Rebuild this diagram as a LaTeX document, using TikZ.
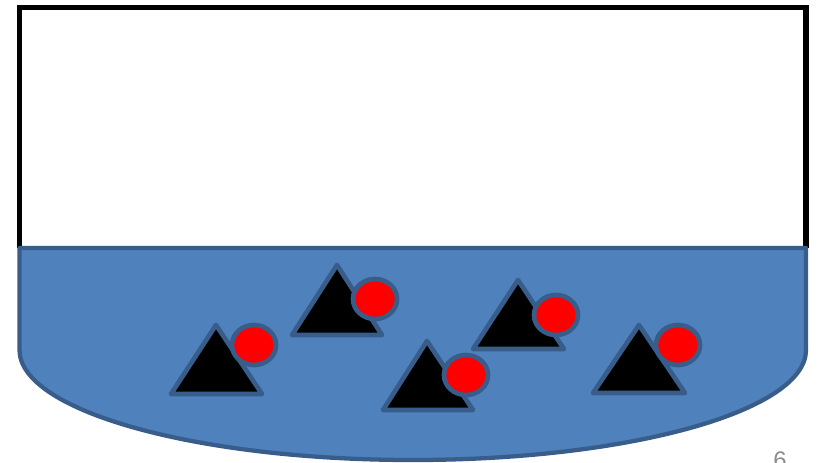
\documentclass[tikz,border=0pt]{standalone}
\usepackage{fontspec}
\setmainfont{Liberation Sans}
\definecolor{fillblue}{HTML}{4F81BD}
\definecolor{edgeblue}{HTML}{385D8A}
\definecolor{ballred}{HTML}{FF0000}
\definecolor{numgray}{HTML}{8C8C8C}
\tikzset{
  vessel/.style={draw=black, line width=4pt, line join=miter},
  liquid/.style={fill=fillblue, draw=edgeblue, line width=3.2pt, line join=round},
  particle/.style={fill=black, draw=edgeblue, line width=3.5pt, line join=round},
  ball/.style={fill=ballred, draw=edgeblue, line width=3.5pt},
}
\begin{document}
\begin{tikzpicture}[x=0.75pt, y=-0.75pt]
\useasboundingbox (0,0) rectangle (818,462);
% container
\draw[vessel] (19.5,248) -- (19.5,7.5) -- (806,7.5) -- (806,248);
% liquid
\draw[liquid] (19.5,248) -- (806,248) -- (806,350)
  arc[start angle=0, end angle=180, x radius=393.25, y radius=110] -- cycle;
% particles: triangles with balls
\draw[particle] (216,325) -- (262,394) -- (171,394) -- cycle;
\draw[ball] (254,345) ellipse[x radius=22, y radius=20];
\draw[particle] (337,265) -- (382,335) -- (292,335) -- cycle;
\draw[ball] (375,299) ellipse[x radius=22, y radius=20];
\draw[particle] (427,341) -- (473,410) -- (383,410) -- cycle;
\draw[ball] (466,375) ellipse[x radius=22, y radius=20];
\draw[particle] (518,280) -- (564,349) -- (473,349) -- cycle;
\draw[ball] (556,315) ellipse[x radius=22, y radius=20];
\draw[particle] (639,325) -- (685,393) -- (593,393) -- cycle;
\draw[ball] (678,345) ellipse[x radius=22, y radius=20];
% slide number (cut off at the bottom edge, as in the reference)
\node[anchor=north west, inner sep=0pt, text=numgray, font=\fontsize{18}{20}\selectfont] (num) at (773,451) {6};
\end{tikzpicture}
\end{document}
